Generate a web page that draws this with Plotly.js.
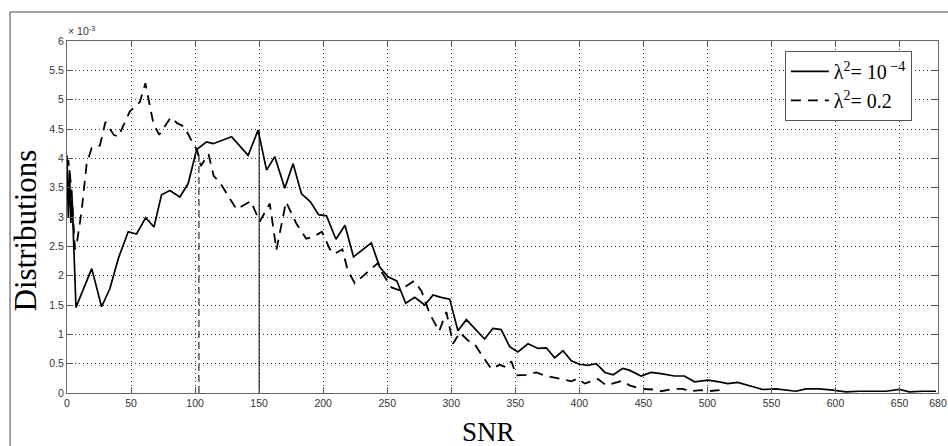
<!DOCTYPE html>
<html>
<head>
<meta charset="utf-8">
<script src="https://cdn.plot.ly/plotly-3.0.1.min.js"></script>
<style>html,body{margin:0;padding:0;background:#fff;}#chart{width:948px;height:446px;}</style>
</head>
<body>
<div id="chart"></div>
<script>
// Values in units of 1e-3
const snrSmall = [0, 1, 2, 3, 4, 5, 7, 19.3, 27, 33.5, 40, 47.8, 54.3, 61.4, 67.9, 73.8, 80.3, 88.1, 94.6, 101.2, 108.9, 114.1, 121, 128.5, 141.4, 149.2, 155.8, 162.2, 170, 176.5, 183, 190, 196.5, 202.6, 210, 217, 223.7, 237.6, 244, 250.6, 257.5, 264.4, 271.5, 279.3, 285.8, 292, 298.8, 305.2, 311.8, 326, 332.5, 339, 345.6, 352, 359.9, 367.7, 374.2, 380.7, 387.2, 393.7, 400.2, 406.6, 413.2, 420, 426.5, 433.9, 439, 448.2, 456, 463.8, 474.2, 482, 489.9, 500.3, 509.4, 515.8, 523.6, 532.8, 543.1, 553.5, 561.4, 569.2, 577, 587.4, 597.8, 608.2, 618.6, 629, 639.4, 649.8, 657.6, 668, 678.4];
const distSmall = [4.05, 3.0, 3.8, 2.9, 3.3, 2.6, 1.46, 2.12, 1.47, 1.78, 2.29, 2.75, 2.71, 2.99, 2.83, 3.38, 3.45, 3.34, 3.57, 4.15, 4.28, 4.25, 4.31, 4.37, 4.05, 4.48, 3.80, 4.03, 3.49, 3.91, 3.40, 3.26, 3.04, 3.02, 2.62, 2.86, 2.32, 2.56, 2.15, 1.98, 1.91, 1.53, 1.63, 1.50, 1.67, 1.63, 1.60, 1.06, 1.25, 0.92, 1.10, 1.08, 0.79, 0.70, 0.84, 0.76, 0.77, 0.60, 0.72, 0.55, 0.49, 0.47, 0.50, 0.35, 0.31, 0.42, 0.39, 0.29, 0.35, 0.33, 0.29, 0.29, 0.19, 0.22, 0.19, 0.16, 0.18, 0.12, 0.06, 0.07, 0.05, 0.03, 0.07, 0.07, 0.05, 0.02, 0.03, 0.03, 0.03, 0.06, 0.02, 0.03, 0.03];

const snrLarge = [0, 1, 3.6, 6.2, 8, 11.4, 15.3, 19.3, 25.7, 30, 36.5, 40, 49.1, 56.9, 61.2, 67.3, 72, 81, 86, 91.5, 98.5, 101.5, 104.5, 110.5, 114.5, 119.3, 132.4, 137.5, 143.5, 150.5, 158.3, 163.5, 171, 179, 186.8, 192, 199, 205, 208.5, 215, 219, 224.7, 243, 245.4, 253.3, 259.7, 271, 276.7, 283.2, 290.5, 296.2, 301.4, 306.6, 314.4, 318.3, 324.7, 331.3, 337.8, 343, 346.9, 350.8, 358.6, 366.4, 372.8, 378.1, 387.2, 393.7, 398.9, 404.2, 414.5, 421, 427.5, 433.9, 439.2, 448.2, 457.2, 463.8, 472.9, 480.7, 486, 495, 500.2, 509.4];
const distLarge = [3.9, 3.97, 3.45, 2.45, 2.6, 3.1, 3.9, 4.18, 4.22, 4.62, 4.40, 4.37, 4.80, 4.96, 5.28, 4.61, 4.40, 4.70, 4.60, 4.54, 4.25, 4.15, 3.87, 4.07, 3.70, 3.59, 3.13, 3.19, 3.27, 2.92, 3.23, 2.44, 3.26, 2.89, 2.63, 2.66, 2.75, 2.46, 2.37, 2.45, 2.1, 1.87, 2.22, 2.07, 1.80, 1.75, 1.91, 1.74, 1.35, 1.05, 1.38, 0.84, 1.03, 0.87, 0.83, 0.62, 0.41, 0.48, 0.44, 0.54, 0.30, 0.31, 0.35, 0.30, 0.27, 0.23, 0.20, 0.25, 0.16, 0.24, 0.13, 0.17, 0.21, 0.13, 0.07, 0.06, 0.03, 0.07, 0.07, 0.03, 0.05, 0.03, 0.05];

// Marker lines (mean SNR) and their heights
const meanSmall = 150, meanSmallTop = 4.48;
const meanLarge = 103, meanLargeTop = 4.1;

const xTicks = [0, 50, 100, 150, 200, 250, 300, 350, 400, 450, 500, 550, 600, 650, 680];
const yTicks = [0, 0.5, 1, 1.5, 2, 2.5, 3, 3.5, 4, 4.5, 5, 5.5, 6];
const yTickText = ['0', '0.5', '1', '1.5', '2', '2.5', '3', '3.5', '4', '4.5', '5', '5.5', '6'];
const seriesNames = ['λ<sup>2</sup>= 10<sup> −4</sup>', 'λ<sup>2</sup>= 0.2'];

const traces = [
  {x: snrSmall, y: distSmall, mode: 'lines', name: seriesNames[0],
   line: {color: '#000', width: 1.7}},
  {x: snrLarge, y: distLarge, mode: 'lines', name: seriesNames[1],
   line: {color: '#000', width: 1.8, dash: '10px,7px'}},
  {x: [meanSmall, meanSmall], y: [0, meanSmallTop], mode: 'lines', showlegend: false,
   line: {color: '#000', width: 1}},
  {x: [meanLarge, meanLarge], y: [0, meanLargeTop], mode: 'lines', showlegend: false,
   line: {color: '#000', width: 1, dash: '7px,4px'}}
];

const axisCommon = {
  showgrid: true, gridcolor: '#333', gridwidth: 1, griddash: '1px,3px',
  ticks: 'inside', ticklen: 6, tickcolor: '#555', tickwidth: 1,
  showline: true, linecolor: '#666', linewidth: 1, mirror: 'ticks',
  zeroline: false,
  tickfont: {family: 'Liberation Sans, Arial, sans-serif', size: 10.5, color: '#333'}
};

const layout = {
  width: 948, height: 446,
  margin: {l: 67, r: 10, t: 41, b: 53},
  paper_bgcolor: '#fff', plot_bgcolor: '#fff',
  xaxis: Object.assign({}, axisCommon, {range: [0, 680], tickmode: 'array', tickvals: xTicks, ticktext: xTicks.map(String)}),
  yaxis: Object.assign({}, axisCommon, {range: [0, 6], tickmode: 'array', tickvals: yTicks, ticktext: yTickText}),
  showlegend: true,
  legend: {
    x: 0.970, xanchor: 'right', y: 0.972, yanchor: 'top',
    bgcolor: '#fff', bordercolor: '#555', borderwidth: 1,
    font: {family: 'Liberation Serif, Times New Roman, serif', size: 20, color: '#000'},
    itemwidth: 38,
    tracegroupgap: 0
  },
  annotations: [
    {text: 'SNR', xref: 'paper', yref: 'paper', x: 0.4834, y: -0.1108, xanchor: 'center', yanchor: 'middle',
     showarrow: false, font: {family: 'Liberation Serif, Times New Roman, serif', size: 27, color: '#000'}},
    {text: 'Distributions', xref: 'paper', yref: 'paper', x: -0.0471, y: 0.4616, xanchor: 'center', yanchor: 'middle',
     textangle: -90, showarrow: false, font: {family: 'Liberation Serif, Times New Roman, serif', size: 31, color: '#000'}},
    {text: '× 10<sup>-3</sup>', xref: 'paper', yref: 'paper', x: -0.001, y: 1.005, xanchor: 'left', yanchor: 'bottom',
     showarrow: false, font: {family: 'Liberation Sans, Arial, sans-serif', size: 10.5, color: '#333'}}
  ],
  shapes: [
    {type: 'rect', xref: 'paper', yref: 'paper', x0: -0.0654, x1: 1.03, y0: -0.2, y1: 1.0824,
     line: {color: '#444', width: 1}, fillcolor: 'rgba(0,0,0,0)', layer: 'below'}
  ]
};

Plotly.newPlot('chart', traces, layout, {staticPlot: true, displayModeBar: false});
</script>
</body>
</html>
